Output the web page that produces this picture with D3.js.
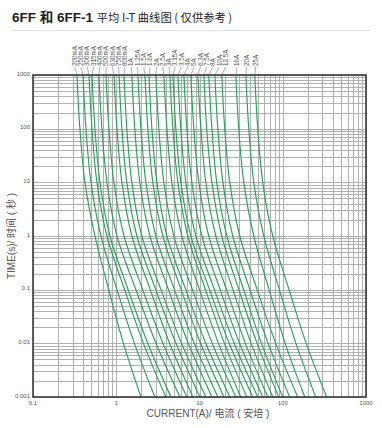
<!DOCTYPE html>
<html>
<head>
<meta charset="utf-8">
<script src="https://cdn.jsdelivr.net/npm/d3@7"></script>
<style>
  html, body { margin: 0; padding: 0; background: #fff; }
  svg { display: block; }
  text { font-family: "Liberation Sans", Arial, "Noto Sans CJK SC", sans-serif; }
</style>
</head>
<body>
<svg id="chart" width="382" height="428"></svg>
<script>
// ---- data ----
const times = [1000, 100, 10, 1, 0.1, 0.01, 0.001];
const ratings = ["200mA","250mA","300mA","315mA","400mA","500mA","630mA","750mA","800mA",
  "1A","1.25A","1.5A","1.6A","2A","2.5A","3A","3.15A","3.5A","4A","5A","6.3A","7.5A","8A",
  "10A","12.5A","16A","20A","25A"];
// current (A) at each time in `times`, one row per rating
const currents = [
  [0.337, 0.366, 0.421, 0.555, 0.812, 1.22, 1.98],
  [0.398, 0.433, 0.497, 0.655, 1.02, 1.65, 2.91],
  [0.470, 0.511, 0.586, 0.773, 1.26, 2.12, 3.94],
  [0.511, 0.555, 0.637, 0.839, 1.39, 2.39, 4.53],
  [0.619, 0.673, 0.773, 1.02, 1.72, 3.00, 5.81],
  [0.752, 0.817, 0.938, 1.24, 2.08, 3.64, 7.05],
  [0.938, 1.02, 1.17, 1.54, 2.56, 4.38, 8.32],
  [1.08, 1.17, 1.34, 1.77, 2.98, 5.21, 10.1],
  [1.24, 1.34, 1.54, 2.03, 3.45, 6.09, 11.9],
  [1.54, 1.67, 1.92, 2.54, 4.24, 7.33, 14.1],
  [1.82, 1.98, 2.27, 2.99, 5.00, 8.65, 16.6],
  [2.21, 2.40, 2.75, 3.63, 6.03, 10.3, 19.6],
  [2.47, 2.68, 3.08, 4.06, 6.84, 11.9, 23.1],
  [2.99, 3.25, 3.73, 4.92, 8.22, 14.2, 27.3],
  [3.73, 4.06, 4.66, 6.14, 10.0, 16.9, 31.3],
  [4.41, 4.79, 5.50, 7.24, 11.8, 19.9, 37.0],
  [4.79, 5.20, 5.97, 7.87, 13.2, 22.7, 43.6],
  [5.50, 5.97, 6.85, 9.04, 15.1, 26.1, 50.1],
  [6.49, 7.05, 8.09, 10.7, 17.7, 30.3, 57.5],
  [7.87, 8.55, 9.82, 12.9, 21.1, 35.6, 66.1],
  [9.55, 10.4, 11.9, 15.7, 25.2, 41.7, 75.9],
  [11.3, 12.2, 14.1, 18.5, 29.7, 49.2, 89.5],
  [12.9, 14.1, 16.1, 21.3, 33.9, 55.5, 100],
  [15.3, 16.6, 19.1, 25.1, 40.3, 66.7, 121],
  [18.5, 20.1, 23.1, 30.5, 49.3, 82.2, 151],
  [27.3, 29.6, 34.0, 44.9, 68.5, 107, 184],
  [36.0, 39.1, 44.9, 59.2, 91.0, 144, 249],
  [46.1, 50.1, 57.5, 75.9, 119, 191, 337]
];
const xTickValues = [0.1, 1, 10, 100, 1000];
const xTickLabels = ["0.1", "1", "10", "100", "1000"];
const yTickValues = [1000, 100, 10, 1, 0.1, 0.01, 0.001];
const yTickLabels = ["1000", "100", "10", "1", "0.1", "0.01", "0.001"];

// ---- layout ----
const svg = d3.select("#chart");
const L = 33, R = 366, T = 75, B = 397;
const x = d3.scaleLog().domain([0.1, 1000]).range([L, R]);
const y = d3.scaleLog().domain([1000, 0.001]).range([T, B]);

svg.append("rect").attr("width", 382).attr("height", 428).attr("fill", "#fff");

// title
const title = svg.append("text").attr("x", 12).attr("y", 21.5).attr("fill", "#1e1e1e");
title.append("tspan").attr("font-size", 13.5).attr("font-weight", "bold")
  .attr("font-family", "'Liberation Sans', Arial, 'Noto Sans CJK SC', sans-serif")
  .text("6FF 和 6FF-1 ");
title.append("tspan").attr("font-size", 11.3)
  .attr("font-family", "'Noto Sans CJK SC', 'Liberation Sans', sans-serif")
  .text("平均 I-T 曲线图 ( 仅供参考 )");
svg.append("line").attr("x1", 12).attr("x2", 370).attr("y1", 30.5).attr("y2", 30.5)
  .attr("stroke", "#e2e2e2").attr("stroke-width", 1);

// grid
const g = svg.append("g");
g.selectAll(".vg").data(x.ticks()).join("line")
  .attr("x1", d => Math.round(x(d)) + 0.5).attr("x2", d => Math.round(x(d)) + 0.5)
  .attr("y1", T).attr("y2", B).attr("stroke", "#a8a8a8").attr("stroke-width", 0.9);
g.selectAll(".hg").data(y.ticks()).join("line")
  .attr("y1", d => Math.round(y(d)) + 0.5).attr("y2", d => Math.round(y(d)) + 0.5)
  .attr("x1", L).attr("x2", R).attr("stroke", "#a8a8a8").attr("stroke-width", 0.9);

// curves
svg.append("clipPath").attr("id", "clip").append("rect")
  .attr("x", L).attr("y", T).attr("width", R - L).attr("height", B - T);
const line = d3.line().x(d => x(d[0])).y(d => y(d[1])).curve(d3.curveMonotoneY);
svg.append("g").attr("clip-path", "url(#clip)")
  .selectAll("path").data(currents).join("path")
  .attr("d", row => line(row.map((c, i) => [c, times[i]])))
  .attr("fill", "none").attr("stroke", "#2a9f5d").attr("stroke-width", 1.15);

// frame
svg.append("rect").attr("x", L).attr("y", T).attr("width", R - L).attr("height", B - T)
  .attr("fill", "none").attr("stroke", "#3a3a3a").attr("stroke-width", 1.6);

// tick labels
svg.selectAll(".yt").data(yTickValues).join("text")
  .attr("x", L - 3).attr("y", d => y(d)).attr("dy", "0.1em")
  .attr("text-anchor", "end").attr("font-size", 6).attr("fill", "#555")
  .text((d, i) => yTickLabels[i]);
svg.selectAll(".xt").data(xTickValues).join("text")
  .attr("x", d => x(d)).attr("y", B + 7.5)
  .attr("text-anchor", "middle").attr("font-size", 6).attr("fill", "#555")
  .text((d, i) => xTickLabels[i]);

// axis titles
svg.append("text").attr("x", 208).attr("y", 416.5).attr("text-anchor", "middle")
  .attr("font-size", 10).attr("fill", "#555")
  .text("CURRENT(A)/ 电流 ( 安培 )");
svg.append("text").attr("transform", "translate(15,236) rotate(-90)")
  .attr("text-anchor", "middle").attr("font-size", 10).attr("fill", "#555")
  .text("TIME(s)/ 时间 ( 秒 )");

// rating labels with leader lines
const tops = currents.map(r => x(r[0]));
let pos = tops.map(t => t + 1);
const gap = 6.3;
for (let it = 0; it < 200; it++) {
  for (let i = 1; i < pos.length; i++) {
    const ov = gap - (pos[i] - pos[i - 1]);
    if (ov > 0) { pos[i - 1] -= ov / 2; pos[i] += ov / 2; }
  }
}
const lab = svg.append("g");
lab.selectAll("line").data(ratings).join("line")
  .attr("x1", (d, i) => pos[i]).attr("y1", 67)
  .attr("x2", (d, i) => tops[i]).attr("y2", T)
  .attr("stroke", "#777").attr("stroke-width", 0.6);
lab.selectAll("text").data(ratings).join("text")
  .attr("transform", (d, i) => `translate(${pos[i] + 2.2},66) rotate(-90)`)
  .attr("font-size", 6.3).attr("fill", "#555")
  .text(d => d);
</script>
</body>
</html>
